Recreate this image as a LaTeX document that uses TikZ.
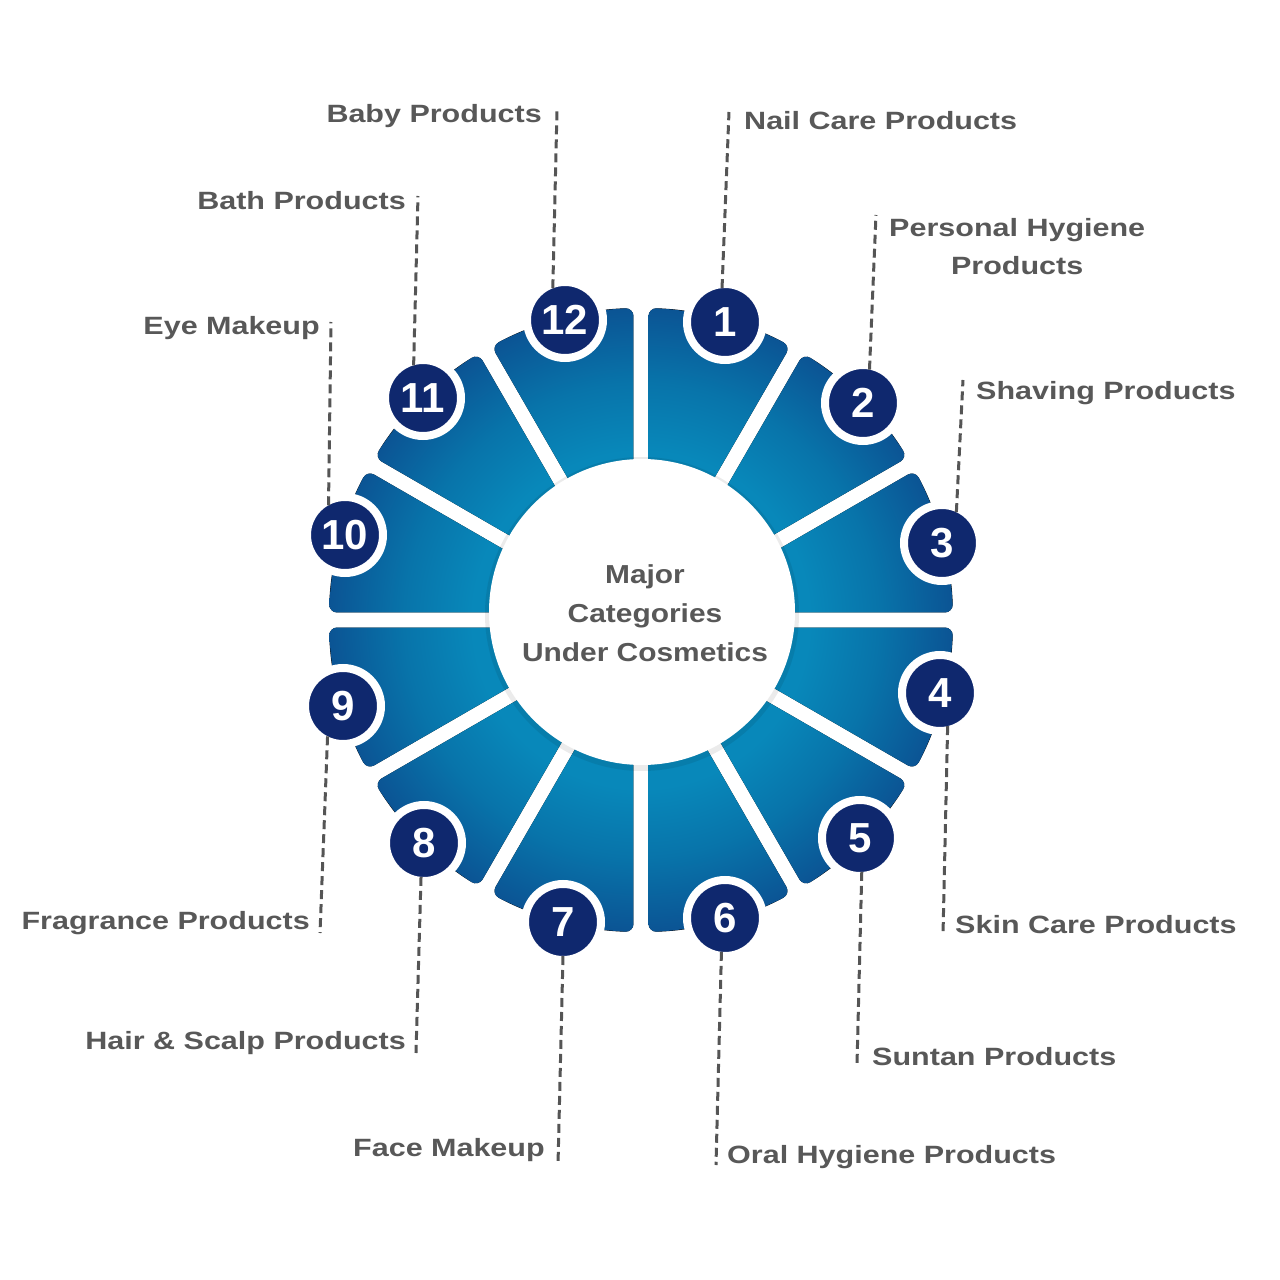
\documentclass[tikz,border=0pt]{standalone}
\usepackage{fontspec}
\setmainfont{Liberation Sans}
\usetikzlibrary{calc}

\definecolor{ringlight}{RGB}{8,136,186}
\definecolor{ringmid}{RGB}{8,116,170}
\definecolor{ringdark}{RGB}{11,84,148}
\definecolor{numblue}{RGB}{15,40,110}
\definecolor{labelgray}{RGB}{88,88,88}
\definecolor{leadgray}{RGB}{85,85,85}

\pgfdeclareradialshading{ringshade}{\pgfpoint{0bp}{0bp}}{color(0bp)=(ringlight); color(13.5bp)=(ringlight); color(19bp)=(ringmid); color(25bp)=(ringdark); color(50bp)=(ringdark)}

\tikzset{
  piece/.style={rounded corners=8pt, path picture={\shade[shading=ringshade] (0pt,0pt) circle (312pt);}},
  numcirc/.style={circle, fill=numblue, draw=white, line width=8pt, minimum size=76pt, inner sep=0pt, outer sep=-4pt, text=white, font=\fontsize{42}{42}\selectfont\bfseries},
  lead/.style={leadgray, line width=3pt, dash pattern=on 9pt off 5pt},
  lbl/.style={text=labelgray, font=\fontsize{25}{38}\selectfont\bfseries, xscale=1.22, inner sep=0pt},
  hubtext/.style={text=labelgray, font=\fontsize{26}{39}\selectfont\bfseries, xscale=1.15, align=center, inner sep=0pt}
}

\begin{document}
\begin{tikzpicture}[x=1pt,y=1pt]
%picture
\useasboundingbox (-641,-660) rectangle (639,620);
% ring pieces
\fill[piece] (15:29) -- (1.38:312) arc[start angle=1.38,end angle=28.62,radius=312] -- cycle;
\fill[piece] (45:29) -- (31.38:312) arc[start angle=31.38,end angle=58.62,radius=312] -- cycle;
\fill[piece] (75:29) -- (61.38:312) arc[start angle=61.38,end angle=88.62,radius=312] -- cycle;
\fill[piece] (105:29) -- (91.38:312) arc[start angle=91.38,end angle=118.62,radius=312] -- cycle;
\fill[piece] (135:29) -- (121.38:312) arc[start angle=121.38,end angle=148.62,radius=312] -- cycle;
\fill[piece] (165:29) -- (151.38:312) arc[start angle=151.38,end angle=178.62,radius=312] -- cycle;
\fill[piece] (195:29) -- (181.38:312) arc[start angle=181.38,end angle=208.62,radius=312] -- cycle;
\fill[piece] (225:29) -- (211.38:312) arc[start angle=211.38,end angle=238.62,radius=312] -- cycle;
\fill[piece] (255:29) -- (241.38:312) arc[start angle=241.38,end angle=268.62,radius=312] -- cycle;
\fill[piece] (285:29) -- (271.38:312) arc[start angle=271.38,end angle=298.62,radius=312] -- cycle;
\fill[piece] (315:29) -- (301.38:312) arc[start angle=301.38,end angle=328.62,radius=312] -- cycle;
\fill[piece] (345:29) -- (331.38:312) arc[start angle=331.38,end angle=358.62,radius=312] -- cycle;
% hub
\fill[black, opacity=0.08] (1,6) circle (157);
\node[circle, fill=white, minimum size=306pt, inner sep=0pt] (hub) at (1,8) {};
\node[hubtext] (title) at (4,7) {Major\\Categories\\Under Cosmetics};
% numbers
\node[numcirc] (c1) at (84,298) {1};
\node[numcirc] (c2) at (222,217) {2};
\node[numcirc] (c3) at (301,77) {3};
\node[numcirc] (c4) at (299,-73) {4};
\node[numcirc] (c5) at (219,-218) {5};
\node[numcirc] (c6) at (84,-298) {6};
\node[numcirc] (c7) at (-78,-302) {7};
\node[numcirc] (c8) at (-217,-223) {8};
\node[numcirc] (c9) at (-298,-86) {9};
\node[numcirc] (c10) at (-296,85) {10};
\node[numcirc] (c11) at (-218,222) {11};
\node[numcirc] (c12) at (-76,300) {12};
% leader ends
\coordinate (l1) at (88,508);
\coordinate (l2) at (235,405);
\coordinate (l3) at (322,240);
\coordinate (l4) at (302,-315);
\coordinate (l5) at (216,-445);
\coordinate (l6) at (75,-545);
\coordinate (l7) at (-83,-545);
\coordinate (l8) at (-225,-433);
\coordinate (l9) at (-321,-313);
\coordinate (l10) at (-310,298);
\coordinate (l11) at (-223,424);
\coordinate (l12) at (-84,510);
\draw[lead] (c1.95) -- (l1);
\draw[lead] (c2.79) -- (l2);
\draw[lead] (c3.65) -- (l3);
\draw[lead] (c4.-77) -- (l4);
\draw[lead] (c5.-87) -- (l5);
\draw[lead] (c6.-96) -- (l6);
\draw[lead] (c7.-90) -- (l7);
\draw[lead] (c8.-95) -- (l8);
\draw[lead] (c9.-117) -- (l9);
\draw[lead] (c10.119) -- (l10);
\draw[lead] (c11.106) -- (l11);
\draw[lead] (c12.111) -- (l12);
% labels
\node[lbl, anchor=west] (t1) at (103,499) {Nail Care Products};
\node[lbl, anchor=west, align=center] (t2) at (248,373) {Personal Hygiene\\Products};
\node[lbl, anchor=west] (t3) at (335,227) {Shaving Products};
\node[lbl, anchor=west] (t4) at (314,-305) {Skin Care Products};
\node[lbl, anchor=west] (t5) at (231,-437) {Suntan Products};
\node[lbl, anchor=west] (t6) at (86,-537) {Oral Hygiene Products};
\node[lbl, anchor=east] (t7) at (-96,-530) {Face Makeup};
\node[lbl, anchor=east] (t8) at (-235,-423) {Hair \& Scalp Products};
\node[lbl, anchor=east] (t9) at (-331,-303) {Fragrance Products};
\node[lbl, anchor=east] (t10) at (-321,292) {Eye Makeup};
\node[lbl, anchor=east] (t11) at (-235,419) {Bath Products};
\node[lbl, anchor=east] (t12) at (-99,504) {Baby Products};
\end{tikzpicture}
\end{document}
